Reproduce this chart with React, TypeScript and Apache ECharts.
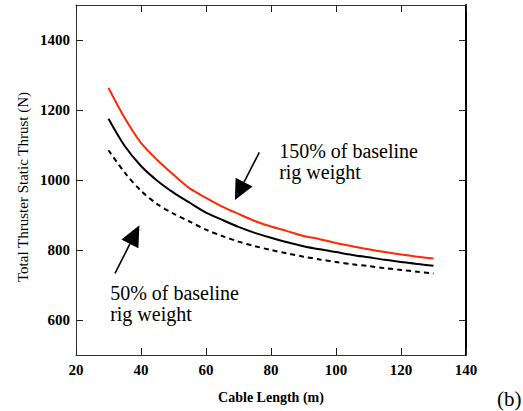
import React, { useEffect, useRef } from "react";
import * as echarts from "echarts";

// Cable length (m) at which thrust was sampled
const cableLength = [30, 35, 40, 45, 50, 55, 60, 65, 70, 75, 80, 85, 90, 95, 100, 105, 110, 115, 120, 125, 130];
// Total thruster static thrust (N) for three rig weights
const thrust150 = [1263, 1177, 1106, 1057, 1015, 976, 949, 924, 903, 883, 867, 854, 840, 831, 820, 811, 802, 794, 787, 781, 776];
const thrust100 = [1175, 1097, 1040, 998, 964, 935, 907, 886, 866, 849, 835, 822, 811, 802, 794, 786, 779, 772, 766, 760, 755];
const thrust50 = [1085, 1021, 969, 931, 904, 881, 858, 840, 824, 811, 800, 790, 781, 773, 766, 759, 754, 748, 743, 738, 733];

const yTicks = [600, 800, 1000, 1200, 1400];

const label150 = ["150% of baseline", "rig weight"];
const label50 = ["50% of baseline", "rig weight"];
const yTitle = "Total Thruster Static Thrust (N)";
const xTitle = "Cable Length (m)";
const panelTag = "(b)";

const SERIF = "Liberation Serif, Times New Roman, serif";

const zip = (xs: number[], ys: number[]) => xs.map((x, i) => [x, ys[i]]);

// Annotation anchors in data coordinates: arrow tail, arrow tip, first text line centre
const arrow150 = { tail: [76.4, 1079], tip: [68.9, 943], text: [82.5, 1084] };
const arrow50 = { tail: [32.0, 733], tip: [39.5, 871], text: [30.5, 676] };
const LINE_GAP = 21;

function arrowShapes(tail: number[], tip: number[], len: number, width: number) {
  const dx = tip[0] - tail[0];
  const dy = tip[1] - tail[1];
  const d = Math.hypot(dx, dy);
  const ux = dx / d;
  const uy = dy / d;
  const bx = tip[0] - ux * len;
  const by = tip[1] - uy * len;
  const px = -uy * (width / 2);
  const py = ux * (width / 2);
  return [
    {
      type: "line",
      shape: { x1: tail[0], y1: tail[1], x2: bx, y2: by },
      style: { stroke: "#000", lineWidth: 1.6 },
      silent: true,
    },
    {
      type: "polygon",
      shape: {
        points: [
          [tip[0], tip[1]],
          [bx + px, by + py],
          [bx - px, by - py],
        ],
      },
      style: { fill: "#000" },
      silent: true,
    },
  ];
}

function textLines(lines: string[], at: number[], size: number) {
  return lines.map((t, i) => ({
    type: "text",
    x: at[0],
    y: at[1] + i * LINE_GAP,
    style: {
      text: t,
      fontFamily: SERIF,
      fontSize: size,
      fill: "#000",
      align: "left",
      verticalAlign: "middle",
    },
    silent: true,
  }));
}

export default function App() {
  const ref = useRef<HTMLDivElement>(null);

  useEffect(() => {
    if (!ref.current) return;
    const chart = echarts.init(ref.current, null, { renderer: "svg" });

    const frame = { show: true, lineStyle: { color: "#333", width: 1 } };
    const tick = { show: true, inside: true, length: 7, lineStyle: { color: "#222", width: 1 } };
    const tickLabel = {
      color: "#000",
      fontFamily: SERIF,
      fontWeight: "bold" as const,
      fontSize: 15,
      formatter: (v: number) => String(v),
    };
    const curve = { type: "line", smooth: 0.3, showSymbol: false };

    chart.setOption({
      animation: false,
      backgroundColor: "#fff",
      textStyle: { fontFamily: SERIF },
      grid: { left: 76, right: 57, top: 5, bottom: 56 },
      xAxis: [
        {
          type: "value",
          min: 20,
          max: 140,
          interval: 20,
          position: "bottom",
          axisLine: frame,
          axisTick: tick,
          splitLine: { show: false },
          axisLabel: { ...tickLabel, margin: 7 },
          name: xTitle,
          nameLocation: "middle",
          nameGap: 35,
          nameTextStyle: { color: "#000", fontFamily: SERIF, fontWeight: "bold", fontSize: 14 },
        },
        {
          type: "value",
          min: 20,
          max: 140,
          interval: 20,
          position: "top",
          axisLine: frame,
          axisTick: tick,
          splitLine: { show: false },
          axisLabel: { show: false },
        },
      ],
      yAxis: [
        {
          type: "value",
          min: 500,
          max: 1500,
          interval: 100,
          position: "left",
          axisLine: frame,
          axisTick: { ...tick, customValues: yTicks },
          splitLine: { show: false },
          axisLabel: { ...tickLabel, margin: 6, customValues: yTicks },
        },
        {
          type: "value",
          min: 500,
          max: 1500,
          interval: 100,
          position: "right",
          axisLine: { show: true, lineStyle: { color: "#000", width: 2 } },
          axisTick: { ...tick, customValues: yTicks },
          splitLine: { show: false },
          axisLabel: { show: false },
        },
      ],
      series: [
        {
          ...curve,
          data: zip(cableLength, thrust150),
          lineStyle: { color: "#ff2a00", width: 2 },
        },
        {
          ...curve,
          data: zip(cableLength, thrust100),
          lineStyle: { color: "#000", width: 2 },
        },
        {
          ...curve,
          data: zip(cableLength, thrust50),
          lineStyle: { color: "#000", width: 2, type: [5, 4] },
        },
      ],
    });

    const px = (p: number[]) => chart.convertToPixel({ gridIndex: 0 }, p) as number[];

    const a150 = arrowShapes(px(arrow150.tail), px(arrow150.tip), 20, 19);
    const a50 = arrowShapes(px(arrow50.tail), px(arrow50.tip), 21, 19);

    chart.setOption({
      graphic: [
        ...a150,
        ...a50,
        ...textLines(label150, px(arrow150.text), 20),
        ...textLines(label50, px(arrow50.text), 20),
        {
          type: "text",
          x: 23,
          y: 187,
          rotation: Math.PI / 2,
          style: {
            text: yTitle,
            fontFamily: SERIF,
            fontSize: 15,
            fill: "#000",
            align: "center",
            verticalAlign: "middle",
          },
          silent: true,
        },
        {
          type: "text",
          x: 497,
          y: 399,
          style: {
            text: panelTag,
            fontFamily: SERIF,
            fontSize: 21,
            fill: "#000",
            align: "left",
            verticalAlign: "middle",
          },
          silent: true,
        },
      ],
    });

    return () => chart.dispose();
  }, []);

  return (
    <div
      ref={ref}
      style={{ position: "fixed", left: 0, top: 0, width: 523, height: 411, background: "#fff" }}
    />
  );
}
